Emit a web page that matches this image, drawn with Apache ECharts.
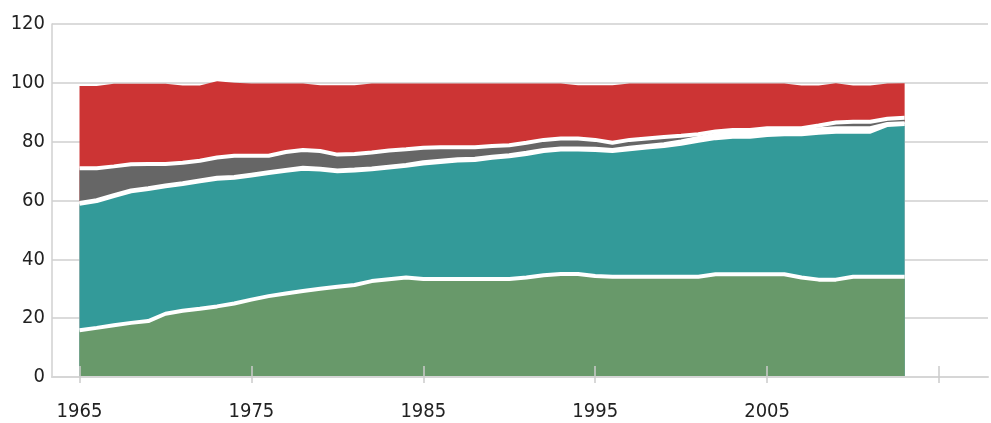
<!DOCTYPE html>
<html>
<head>
<meta charset="utf-8">
<script src="https://cdn.jsdelivr.net/npm/echarts@6/dist/echarts.min.js"></script>
<style>
  html, body { margin: 0; padding: 0; background: #fff; }
  #main { width: 991px; height: 423px; }
</style>
</head>
<body>
<div id="main"></div>
<script>
// years on the x axis
var years = [1965, 1966, 1967, 1968, 1969, 1970, 1971, 1972, 1973, 1974,
             1975, 1976, 1977, 1978, 1979, 1980, 1981, 1982, 1983, 1984,
             1985, 1986, 1987, 1988, 1989, 1990, 1991, 1992, 1993, 1994,
             1995, 1996, 1997, 1998, 1999, 2000, 2001, 2002, 2003, 2004,
             2005, 2006, 2007, 2008, 2009, 2010, 2011, 2012, 2013];

// stacked shares, bottom to top
var greenVals = [15.9, 16.7, 17.6, 18.4, 19.0, 21.5, 22.5, 23.2, 24.0, 25.0,
                 26.3, 27.5, 28.4, 29.2, 30.0, 30.7, 31.3, 32.6, 33.2, 33.8,
                 33.3, 33.3, 33.3, 33.3, 33.3, 33.3, 33.8, 34.6, 35.0, 35.0,
                 34.3, 34.1, 34.1, 34.1, 34.1, 34.1, 34.1, 34.9, 34.9, 34.9,
                 34.9, 34.9, 33.8, 33.1, 33.1, 34.1, 34.1, 34.1, 34.1];
var tealVals  = [43.0, 43.1, 43.9, 44.7, 44.9, 43.3, 43.1, 43.3, 43.4, 42.7,
                 42.2, 41.8, 41.7, 41.6, 40.5, 39.2, 38.9, 38.0, 38.0, 38.0,
                 39.3, 39.8, 40.3, 40.5, 41.2, 41.7, 42.0, 42.2, 42.3, 42.3,
                 42.9, 42.7, 43.3, 43.9, 44.4, 45.2, 46.2, 46.3, 46.8, 46.8,
                 47.4, 47.6, 48.7, 49.9, 50.3, 49.3, 49.3, 51.6, 51.9];
var whiteVals = [0.3, 0.3, 0.3, 0.3, 0.3, 0.3, 0.3, 0.3, 0.3, 0.3,
                 0.3, 0.3, 0.3, 0.3, 0.3, 0.3, 0.3, 0.3, 0.3, 0.3,
                 0.4, 0.4, 0.4, 0.4, 0.4, 0.4, 0.4, 0.4, 0.4, 0.4,
                 0.4, 0.4, 0.5, 0.5, 0.6, 0.8, 1.0, 1.2, 1.2, 1.2,
                 1.2, 1.2, 1.2, 1.2, 1.2, 1.2, 1.2, 0.3, 0.3];
var grayVals  = [11.8, 10.9, 9.8, 8.9, 8.2, 7.3, 6.9, 6.7, 6.9, 7.2,
                 6.4, 5.6, 6.1, 6.1, 6.0, 5.4, 5.3, 5.4, 5.5, 5.3,
                 4.9, 4.6, 4.1, 3.9, 3.6, 3.4, 3.4, 3.4, 3.4, 3.4,
                 3.0, 2.4, 2.7, 2.6, 2.5, 1.9, 1.2, 1.1, 1.1, 1.1,
                 1.1, 0.9, 0.9, 1.3, 1.9, 2.2, 2.2, 1.8, 1.8];
var redVals   = [27.9, 27.9, 28.1, 27.4, 27.3, 27.3, 26.3, 25.6, 25.9, 24.8,
                 24.6, 24.6, 23.3, 22.6, 22.4, 23.6, 23.4, 23.5, 22.8, 22.4,
                 21.9, 21.7, 21.7, 21.7, 21.3, 21.0, 20.2, 19.2, 18.7, 18.1,
                 18.6, 19.6, 19.2, 18.7, 18.2, 17.8, 17.3, 16.3, 15.8, 15.8,
                 15.2, 15.2, 14.5, 13.6, 13.4, 12.3, 12.3, 12.0, 11.8];

var xLabelYears = [1965, 1975, 1985, 1995, 2005];
var xTickYears = [1965, 1975, 1985, 1995, 2005, 2015];
var yTicks = [0, 20, 40, 60, 80, 100, 120];

var labelFont = "'DejaVu Sans Condensed', 'DejaVu Sans', sans-serif";

// value x axis stacks on x in echarts, so running totals are summed here
var layers = [
    { name: 'green', vals: greenVals, color: '#68996a', line: 4 },
    { name: 'teal',  vals: tealVals,  color: '#339a99', line: 4 },
    { name: 'white', vals: whiteVals, color: '#ffffff', line: 4 },
    { name: 'gray',  vals: grayVals,  color: '#666666', line: 4 },
    { name: 'red',   vals: redVals,   color: '#cc3434', line: 0 }
];

var running = years.map(function () { return 0; });
var series = [];
layers.forEach(function (l, k) {
    running = running.map(function (s, i) { return s + l.vals[i]; });
    series.push({
        name: l.name,
        type: 'line',
        data: years.map(function (y, i) { return [y, +running[i].toFixed(2)]; }),
        showSymbol: false,
        symbol: 'none',
        z: 10 - k,           // lower layers painted last so their white edge stays on top
        lineStyle: { color: '#ffffff', width: l.line, opacity: l.line ? 1 : 0 },
        areaStyle: { color: l.color, opacity: 1, origin: 'start' },
        emphasis: { disabled: true }
    });
});

var chart = echarts.init(document.getElementById('main'));

var xMin = 1963.4, xMax = 2017.85;

chart.setOption({
    animation: false,
    backgroundColor: '#ffffff',
    grid: { left: 52, right: 3, top: 24, bottom: 46 },
    xAxis: [{
        type: 'value',
        min: xMin,
        max: xMax,
        position: 'bottom',
        z: 20,
        axisLine: { show: true, lineStyle: { color: '#d6d6d6', width: 2 } },
        axisTick: { show: true, inside: true, length: 11, customValues: xTickYears,
                    lineStyle: { color: '#cccccc', width: 1.5 } },
        axisLabel: { customValues: xLabelYears, margin: 25, color: '#222',
                     fontFamily: labelFont, fontSize: 20,
                     formatter: function (v) { return String(v); } },
        splitLine: { show: false }
    }, {
        type: 'value',
        min: xMin,
        max: xMax,
        position: 'bottom',
        z: 20,
        axisLine: { show: false },
        axisTick: { show: true, inside: false, length: 6, customValues: xTickYears,
                    lineStyle: { color: '#cccccc', width: 1.5 } },
        axisLabel: { show: false },
        splitLine: { show: false }
    }],
    yAxis: {
        type: 'value',
        min: yTicks[0],
        max: yTicks[yTicks.length - 1],
        interval: 20,
        axisLine: { show: true, lineStyle: { color: '#d0d0d0', width: 1.5 } },
        axisTick: { show: false },
        axisLabel: { margin: 7, color: '#222', fontFamily: labelFont, fontSize: 20 },
        splitLine: { lineStyle: { color: '#cfcfcf', width: 1.5 } }
    },
    series: series
});
</script>
</body>
</html>
